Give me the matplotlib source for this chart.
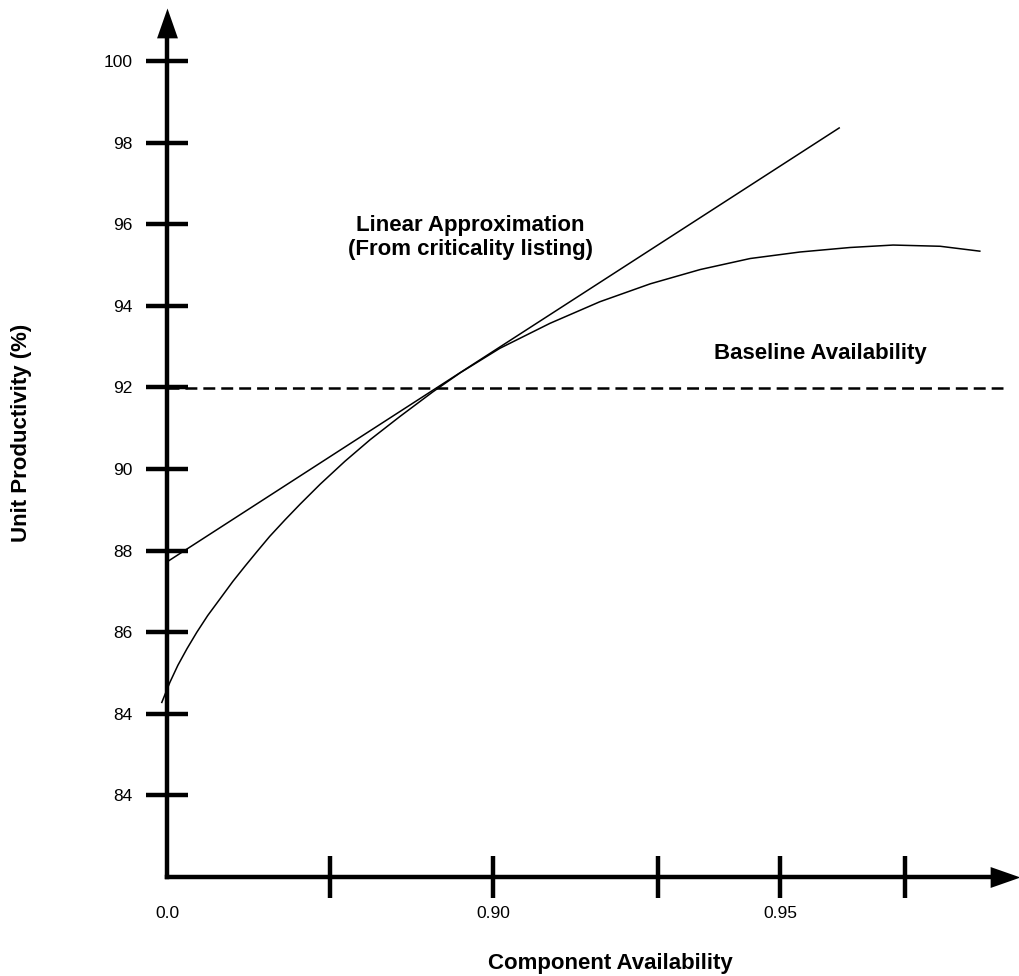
import matplotlib.pyplot as plt

plt.rcParams['font.family'] = ['Liberation Sans', 'DejaVu Sans']
plt.rcParams['lines.scale_dashes'] = False

# values (axis is broken at the origin)
x_origin = 0.8432
y_origin = 80.0
x_ticks = [0.8432, 0.8716, 0.90, 0.9287, 0.95, 0.9718]
x_tick_labels = ['0.0', '', '0.90', '', '0.95', '']
y_ticks = [100, 98, 96, 94, 92, 90, 88, 86, 84, 82]
y_tick_labels = ['100', '98', '96', '94', '92', '90', '88', '86', '84', '84']

# unit productivity vs component availability
curve_x = [0.8423, 0.8437, 0.8451, 0.8467, 0.8484, 0.8503, 0.8524, 0.8547,
           0.8568, 0.8589, 0.8611, 0.8638, 0.8664, 0.8699, 0.8742, 0.8786,
           0.8838, 0.8895, 0.8943, 0.9012, 0.9099, 0.9186, 0.9274, 0.9361,
           0.9448, 0.9535, 0.9622, 0.9697, 0.9779, 0.9848]
curve_y = [84.28, 84.77, 85.19, 85.60, 86.00, 86.41, 86.81, 87.25,
           87.62, 87.98, 88.35, 88.76, 89.14, 89.63, 90.19, 90.72,
           91.29, 91.89, 92.36, 92.96, 93.57, 94.10, 94.54, 94.89,
           95.16, 95.32, 95.43, 95.49, 95.46, 95.34]

# tangent from the criticality listing
linear_x = [0.8436, 0.9603]
linear_y = [87.76, 98.36]

baseline_x = [0.8432, 0.9889]
baseline_y = [91.98, 91.98]


def main():
    fig = plt.figure(figsize=(10.2, 9.76), dpi=100)
    ax = fig.add_axes([0.1637, 0.1014, 0.8363, 0.8904])
    ax.set_xlim(x_origin, 0.9918)
    ax.set_ylim(y_origin, 101.30)

    for side in ['top', 'right']:
        ax.spines[side].set_visible(False)
    for side in ['left', 'bottom']:
        ax.spines[side].set_linewidth(3.2)
    ax.spines['left'].set_bounds(y_origin, 100.6)
    ax.spines['bottom'].set_bounds(x_origin, 0.987)

    # arrow heads
    up = [(-0.35, -1), (0.35, -1), (0, 0)]
    right = [(-1, -0.35), (-1, 0.35), (0, 0)]
    ax.plot(0, 1, marker=up, ms=43, color='k', mew=0,
            transform=ax.transAxes, clip_on=False)
    ax.plot(1, 0, marker=right, ms=43, color='k', mew=0,
            transform=ax.transAxes, clip_on=False)

    ax.set_xticks(x_ticks)
    ax.set_xticklabels(x_tick_labels)
    ax.set_yticks(y_ticks)
    ax.set_yticklabels(y_tick_labels)
    ax.tick_params(direction='inout', length=30, width=3.2, labelsize=12.5)
    ax.tick_params(axis='y', pad=10)
    ax.tick_params(axis='x', pad=6)
    ax.xaxis.get_major_ticks()[0].tick1line.set_visible(False)

    ax.plot(curve_x, curve_y, color='k', lw=1.1, clip_on=False)
    ax.plot(linear_x, linear_y, color='k', lw=1.1)
    ax.plot(baseline_x, baseline_y, color='k', lw=1.8, dashes=(8.6, 4.3))

    ax.text(0.8960, 95.68, 'Linear Approximation\n(From criticality listing)',
            ha='center', va='center', fontsize=16, fontweight='bold',
            linespacing=1.2)
    ax.text(0.957, 92.84, 'Baseline Availability', ha='center', va='center',
            fontsize=16, fontweight='bold')

    fig.text(22 / 1020, 1 - 433 / 976, 'Unit Productivity (%)', rotation=90,
             ha='center', va='center', fontsize=16, fontweight='bold')
    fig.text(610 / 1020, 1 - 963 / 976, 'Component Availability',
             ha='center', va='center', fontsize=16, fontweight='bold')

    fig.savefig('out.png', dpi=100)


if __name__ == "__main__":
    main()
